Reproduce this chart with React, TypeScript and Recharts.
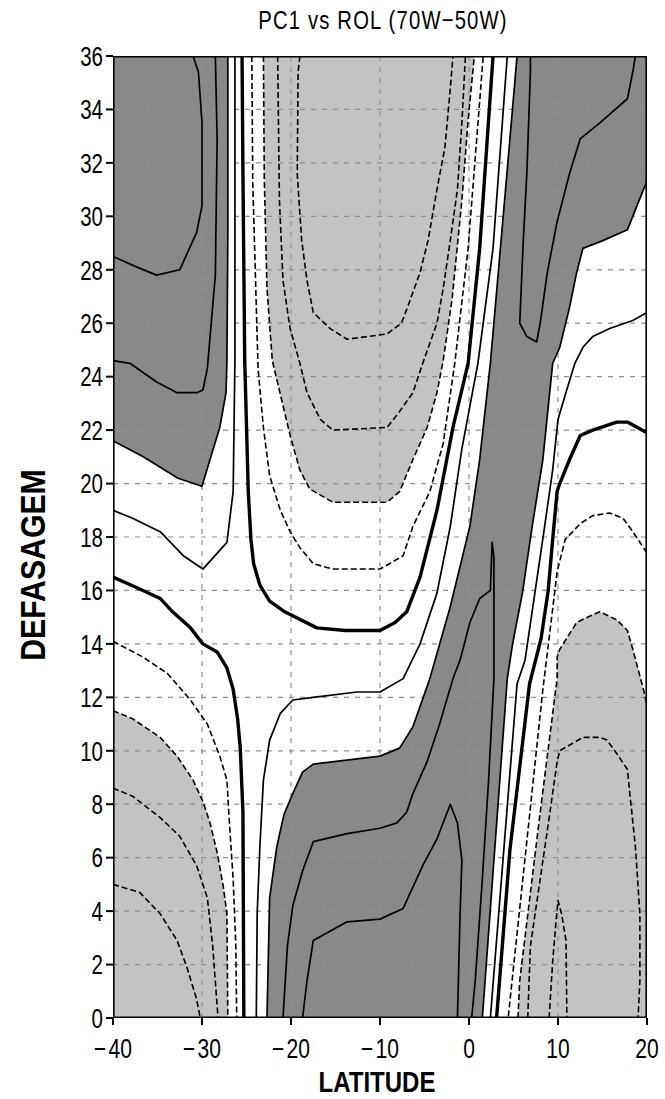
import { ScatterChart, Scatter, XAxis, YAxis } from 'recharts';

type Pt = [number, number];

const LAT_TICKS = [-40, -30, -20, -10, 0, 10, 20];
const LAG_TICKS = [0, 2, 4, 6, 8, 10, 12, 14, 16, 18, 20, 22, 24, 26, 28, 30, 32, 34, 36];
const LAT_GRID = [-30, -20, -10, 0, 10];
const LAG_GRID = [2, 4, 6, 8, 10, 12, 14, 16, 18, 20, 22, 24, 26, 28, 30, 32, 34];

const DARK = '#898989';
const LIGHT = '#c3c3c3';
const GRID = '#8f8f8f';
const FONT = '"Liberation Sans", Arial, sans-serif';

// contours, as [latitude, lag]
// shading boundaries
const darkLeftTop: Pt[] = [[-40, 21.6], [-36.6, 21.0], [-32.7, 20.2], [-30.0, 19.9], [-29.1, 20.9], [-28.0, 22.1], [-27.3, 23.4], [-27.2, 24.6], [-27.1, 29.2], [-27.1, 36]];
const darkBandLeft: Pt[] = [[5.4, 36], [4.0, 30.6], [2.4, 24.5], [1.2, 20.9], [0.1, 18.4], [-2.1, 15.4], [-4.4, 12.7], [-6.3, 10.9], [-7.8, 10.1], [-10.0, 9.8], [-17.5, 9.5], [-18.7, 9.2], [-19.8, 8.4], [-20.8, 7.6], [-21.6, 6.4], [-22.4, 4.5], [-22.7, 0]];
const darkBandRight: Pt[] = [[1.5, 0], [4.3, 12.7], [4.9, 14.0], [6.0, 15.9], [7.1, 18.4], [8.3, 20.9], [9.4, 24.5], [10.2, 25.1], [11.3, 26.6], [12.1, 27.9], [12.8, 28.8], [15.1, 29.1], [17.8, 29.5], [18.4, 30.0], [19.6, 31.0], [20, 31.3]];
const lightCentre: Pt[] = [[-23.1, 36], [-23.0, 31.4], [-22.7, 27.3], [-22.1, 24.6], [-20.1, 21.8], [-19.0, 20.5], [-17.9, 19.8], [-15.3, 19.3], [-9.2, 19.3], [-7.8, 19.7], [-6.3, 20.9], [-4.7, 22.1], [-3.6, 23.4], [-2.9, 24.6], [-1.9, 26.9], [-0.8, 30.6], [-0.1, 33.6], [0.6, 36]];
const lightLowLeft: Pt[] = [[-40, 11.5], [-37.8, 11.2], [-34.7, 10.5], [-32.8, 9.8], [-31.0, 8.9], [-29.9, 8.1], [-29.1, 7.3], [-28.3, 6.2], [-27.6, 4.9], [-27.2, 3.9], [-27.1, 0]];
const lightLowRight: Pt[] = [[5.5, 0], [5.7, 1.4], [8.0, 7.7], [9.9, 12.7], [9.9, 13.5], [10.2, 13.8], [12.1, 14.8], [13.3, 15.0], [14.7, 15.2], [16.6, 14.9], [17.8, 14.5], [18.4, 13.8], [19.2, 12.8], [19.6, 12.3], [20, 11.7]];

// positive contours (solid)
const posTopLeft: Pt[] = [[-31.0, 36], [-30.4, 35.4], [-30.0, 33.5], [-30.0, 30.4], [-30.6, 29.4], [-32.5, 28.0], [-35.1, 27.8], [-37.3, 28.1], [-40, 28.5]];
const posLeft3: Pt[] = [[-28.5, 36], [-28.3, 32.9], [-28.5, 27.8], [-29.4, 24.3], [-29.9, 23.5], [-30.6, 23.4], [-32.8, 23.4], [-35.1, 23.8], [-38.1, 24.5], [-40, 24.6]];
const posLeft1: Pt[] = [[-40, 19.0], [-37.8, 18.7], [-34.7, 18.2], [-32.1, 17.3], [-29.9, 16.8], [-27.2, 17.8], [-26.5, 19.7], [-26.3, 24.6], [-26.3, 36]];
const posBand1: Pt[] = [[4.3, 36], [2.7, 28.8], [1.0, 24.5], [-0.8, 21.3], [-2.1, 18.4], [-3.6, 15.9], [-5.5, 14.0], [-7.4, 12.7], [-10.0, 12.2], [-12.6, 12.2], [-17.5, 12.0], [-19.8, 11.9], [-21.2, 11.4], [-22.4, 10.4], [-23.1, 8.9], [-23.5, 6.4], [-23.8, 3.9], [-23.9, 0]];
const posBand3: Pt[] = [[-20.9, 0], [-20.4, 2.7], [-19.8, 4.2], [-18.7, 5.5], [-17.5, 6.6], [-13.7, 6.9], [-10.0, 7.1], [-8.1, 7.3], [-7.0, 7.7], [-6.3, 8.4], [-4.7, 9.6], [-3.3, 11.0], [-1.8, 12.7], [-1.0, 13.4], [0.1, 14.8], [1.2, 15.7], [2.4, 16.0], [2.6, 17.8], [2.8, 17.2], [2.8, 12.7], [2.2, 8.9], [1.5, 5.2], [0.7, 1.4], [0.3, 0]];
const posBand4: Pt[] = [[-18.7, 0], [-18.2, 1.4], [-17.5, 2.9], [-13.7, 3.6], [-10.0, 3.7], [-7.4, 4.1], [-5.2, 5.7], [-3.6, 6.7], [-2.1, 8.0], [-1.3, 7.3], [-0.8, 5.9], [-1.0, 3.9], [-1.3, 0]];
const posTopRight: Pt[] = [[6.9, 36], [6.9, 35.4], [6.5, 31.6], [6.1, 29.1], [5.7, 26.0], [6.5, 25.5], [7.6, 25.3], [8.0, 26.0], [8.8, 27.9], [9.9, 29.8], [11.3, 31.6], [12.5, 32.9], [14.7, 33.5], [17.8, 34.4], [18.4, 35.4], [18.7, 36]];
const posRight1: Pt[] = [[20, 26.4], [18.4, 26.1], [15.8, 25.8], [13.9, 25.5], [12.8, 25.1], [11.9, 24.5], [10.8, 23.3], [10.0, 22.4], [9.4, 20.5], [8.5, 18.4], [7.4, 15.9], [6.3, 13.4], [5.4, 12.5], [2.4, 0]];

// zero contours (thick)
const zeroU: Pt[] = [[-25.5, 36], [-25.4, 31.6], [-25.2, 24.6], [-24.8, 19.7], [-24.5, 17.9], [-24.2, 17.0], [-23.5, 16.2], [-22.4, 15.6], [-20.7, 15.2], [-17.1, 14.6], [-13.9, 14.5], [-10.0, 14.5], [-8.3, 14.8], [-7.0, 15.2], [-5.5, 16.5], [-3.6, 19.0], [-1.8, 22.1], [-0.1, 24.5], [1.2, 28.8], [2.7, 36]];
const zeroLowLeft: Pt[] = [[-40, 16.5], [-37.3, 16.1], [-34.7, 15.7], [-33.3, 15.2], [-31.3, 14.6], [-29.9, 14.0], [-28.3, 13.7], [-27.2, 13.1], [-26.5, 12.3], [-26.0, 11.2], [-25.7, 10.1], [-25.4, 7.7], [-25.3, 0]];
const zeroRight: Pt[] = [[20, 21.9], [17.8, 22.3], [16.6, 22.3], [13.9, 22.0], [12.5, 21.8], [11.3, 20.9], [10.2, 20.0], [9.9, 19.7], [9.4, 17.9], [8.9, 16.0], [8.1, 14.2], [6.8, 12.5], [4.6, 6.3], [3.1, 0]];

// negative contours (dashed)
const negU1: Pt[] = [[-24.4, 36], [-24.3, 31.3], [-23.7, 24.3], [-23.1, 22.1], [-22.4, 20.3], [-21.2, 19.0], [-20.1, 18.2], [-19.0, 17.6], [-17.5, 17.0], [-15.3, 16.8], [-10.0, 16.8], [-7.4, 17.3], [-6.3, 18.4], [-4.4, 19.7], [-2.9, 21.5], [-1.6, 24.5], [-0.1, 28.8], [1.6, 36]];
const negU3: Pt[] = [[-21.5, 36], [-21.3, 30.6], [-20.9, 27.6], [-20.1, 25.8], [-19.0, 24.5], [-18.2, 23.4], [-16.7, 22.4], [-15.3, 22.0], [-9.2, 22.1], [-7.8, 22.7], [-6.3, 23.4], [-5.2, 24.5], [-3.6, 26.0], [-2.9, 27.3], [-2.1, 29.1], [-1.3, 31.0], [-0.8, 33.5], [-0.4, 36]];
const negU4: Pt[] = [[-19.0, 36], [-19.2, 35.4], [-19.3, 31.6], [-18.8, 29.1], [-18.2, 27.6], [-17.5, 26.4], [-15.6, 25.8], [-13.7, 25.4], [-9.2, 25.6], [-7.6, 26.0], [-6.9, 26.6], [-5.5, 27.9], [-4.6, 29.1], [-3.6, 31.0], [-2.7, 32.6], [-2.1, 34.8], [-1.8, 36]];
const negLeft1: Pt[] = [[-40, 14.1], [-36.6, 13.5], [-33.9, 12.9], [-31.3, 11.9], [-29.4, 11.0], [-28.0, 9.8], [-27.2, 8.9], [-26.9, 7.2], [-26.5, 5.2], [-26.2, 2.7], [-26.1, 0]];
const negLeft3: Pt[] = [[-40, 8.6], [-37.8, 8.3], [-34.7, 7.5], [-32.5, 6.8], [-30.6, 5.7], [-29.4, 4.5], [-28.8, 2.7], [-28.2, 0]];
const negLeft4: Pt[] = [[-40, 5.0], [-37.0, 4.7], [-34.7, 3.9], [-32.8, 2.9], [-31.7, 1.9], [-30.6, 0.7], [-30.2, 0]];
const negRight1: Pt[] = [[20, 17.4], [18.4, 18.2], [17.3, 18.7], [15.8, 18.9], [13.9, 18.8], [12.5, 18.5], [10.8, 17.9], [9.9, 16.7], [9.4, 15.3], [8.3, 12.3], [4.4, 0]];
const negRight3: Pt[] = [[6.6, 0], [6.9, 2.7], [8.0, 5.2], [9.1, 7.7], [9.9, 9.6], [10.2, 10.0], [12.8, 10.5], [14.7, 10.5], [15.5, 10.4], [16.6, 9.9], [17.8, 9.3], [18.1, 8.3], [18.7, 6.4], [19.2, 3.9], [19.2, 1.4], [19.0, 0]];
const negRight4: Pt[] = [[9.0, 0], [9.4, 2.1], [9.8, 3.7], [10.0, 4.4], [10.4, 3.9], [10.9, 2.9], [11.0, 0]];

const FILLS: { pts: Pt[]; color: string }[] = [
  { pts: lightCentre, color: LIGHT },
  { pts: [...lightLowLeft, [-40, 0]], color: LIGHT },
  { pts: [...lightLowRight, [20, 0]], color: LIGHT },
  { pts: [...darkLeftTop, [-40, 36]], color: DARK },
  { pts: [...darkBandLeft, ...darkBandRight, [20, 36]], color: DARK },
];

const SOLID = [darkLeftTop, darkBandLeft, darkBandRight, posTopLeft, posLeft3, posLeft1, posBand1, posBand3, posBand4, posTopRight, posRight1];
const THICK = [zeroU, zeroLowLeft, zeroRight];
const DASHED = [lightCentre, lightLowLeft, lightLowRight, negU1, negU3, negU4, negLeft1, negLeft3, negLeft4, negRight1, negRight3, negRight4];

const xy = (pts: Pt[]) => pts.map(([x, y]) => ({ x, y }));
const toPath = (points: { x: number; y: number }[], close = false) =>
  points.map((p, i) => `${i ? 'L' : 'M'}${p.x},${p.y}`).join(' ') + (close ? ' Z' : '');

const noDot = () => <g />;
const fillLine = (color: string) => (props: any) => <path d={toPath(props.points, true)} fill={color} stroke="none" />;
const strokeLine = (width: number, color = '#000', dash?: string) => (props: any) => (
  <path
    d={toPath(props.points)}
    fill="none"
    stroke={color}
    strokeWidth={width}
    strokeDasharray={dash}
    strokeLinejoin="round"
  />
);

// narrow tick labels, like the original plotting package
const YTick = ({ x, y, payload }: any) => (
  <text transform={`translate(${x},${y}) scale(0.76,1)`} textAnchor="end" dy="0.36em" fontSize={27} fontFamily={FONT} fill="#000">
    {payload.value}
  </text>
);

const XTick = ({ x, y, payload }: any) => {
  const v: number = payload.value;
  return (
    <text transform={`translate(${x},${y}) scale(0.78,1)`} textAnchor="middle" dy="0.78em" fontSize={27} fontFamily={FONT} fill="#000">
      {v < 0 && <tspan>{'\u2212'}</tspan>}
      <tspan dx={v < 0 ? 3 : 0}>{Math.abs(v)}</tspan>
    </text>
  );
};

export default function App() {
  return (
    <div style={{ position: 'absolute', left: 0, top: 0, width: 665, height: 1099, background: '#fff' }}>
      <ScatterChart width={665} height={1099} margin={{ top: 56, right: 18, bottom: 41, left: 33 }}>
        <XAxis
          dataKey="x"
          type="number"
          domain={[-40, 20]}
          ticks={LAT_TICKS}
          allowDataOverflow
          axisLine={false}
          tickSize={7}
          tickMargin={12}
          height={40}
          tickLine={{ stroke: '#000', strokeWidth: 2 }}
          tick={XTick}
        />
        <YAxis
          dataKey="y"
          type="number"
          domain={[0, 36]}
          ticks={LAG_TICKS}
          interval={0}
          allowDataOverflow
          axisLine={false}
          tickSize={7}
          tickMargin={3}
          width={80}
          tickLine={{ stroke: '#000', strokeWidth: 2 }}
          tick={YTick}
        />
        {FILLS.map((f, i) => (
          <Scatter key={`f${i}`} data={xy(f.pts)} shape={noDot} line={fillLine(f.color)} isAnimationActive={false} />
        ))}
        {LAT_GRID.map((t) => (
          <Scatter key={`gx${t}`} data={xy([[t, 0], [t, 36]])} shape={noDot} line={strokeLine(1.2, GRID, '5 6')} isAnimationActive={false} />
        ))}
        {LAG_GRID.map((t) => (
          <Scatter key={`gy${t}`} data={xy([[-40, t], [20, t]])} shape={noDot} line={strokeLine(1.2, GRID, '5 6')} isAnimationActive={false} />
        ))}
        {DASHED.map((c, i) => (
          <Scatter key={`n${i}`} data={xy(c)} shape={noDot} line={strokeLine(1.6, '#000', '6 3')} isAnimationActive={false} />
        ))}
        {SOLID.map((c, i) => (
          <Scatter key={`p${i}`} data={xy(c)} shape={noDot} line={strokeLine(1.7)} isAnimationActive={false} />
        ))}
        {THICK.map((c, i) => (
          <Scatter key={`z${i}`} data={xy(c)} shape={noDot} line={strokeLine(3.4)} isAnimationActive={false} />
        ))}
        <Scatter
          data={xy([[-40, 0], [20, 0], [20, 36], [-40, 36], [-40, 0]])}
          shape={noDot}
          line={strokeLine(3.2)}
          isAnimationActive={false}
        />
      </ScatterChart>
      <svg width={665} height={1099} style={{ position: 'absolute', left: 0, top: 0, pointerEvents: 'none' }}>
        <text transform="translate(383,29) scale(0.78,1)" textAnchor="middle" fontSize={26} fontFamily={FONT} fill="#000" letterSpacing={1.5}>
          PC1 vs ROL (70W{'\u2212'}50W)
        </text>
        <text transform="translate(377,1091.5) scale(0.8,1)" textAnchor="middle" fontSize={30} fontWeight="bold" fontFamily={FONT} fill="#000">
          LATITUDE
        </text>
        <text transform="translate(45,565) rotate(-90) scale(0.84,1)" textAnchor="middle" fontSize={36} fontWeight="bold" fontFamily={FONT} fill="#000">
          DEFASAGEM
        </text>
      </svg>
    </div>
  );
}
